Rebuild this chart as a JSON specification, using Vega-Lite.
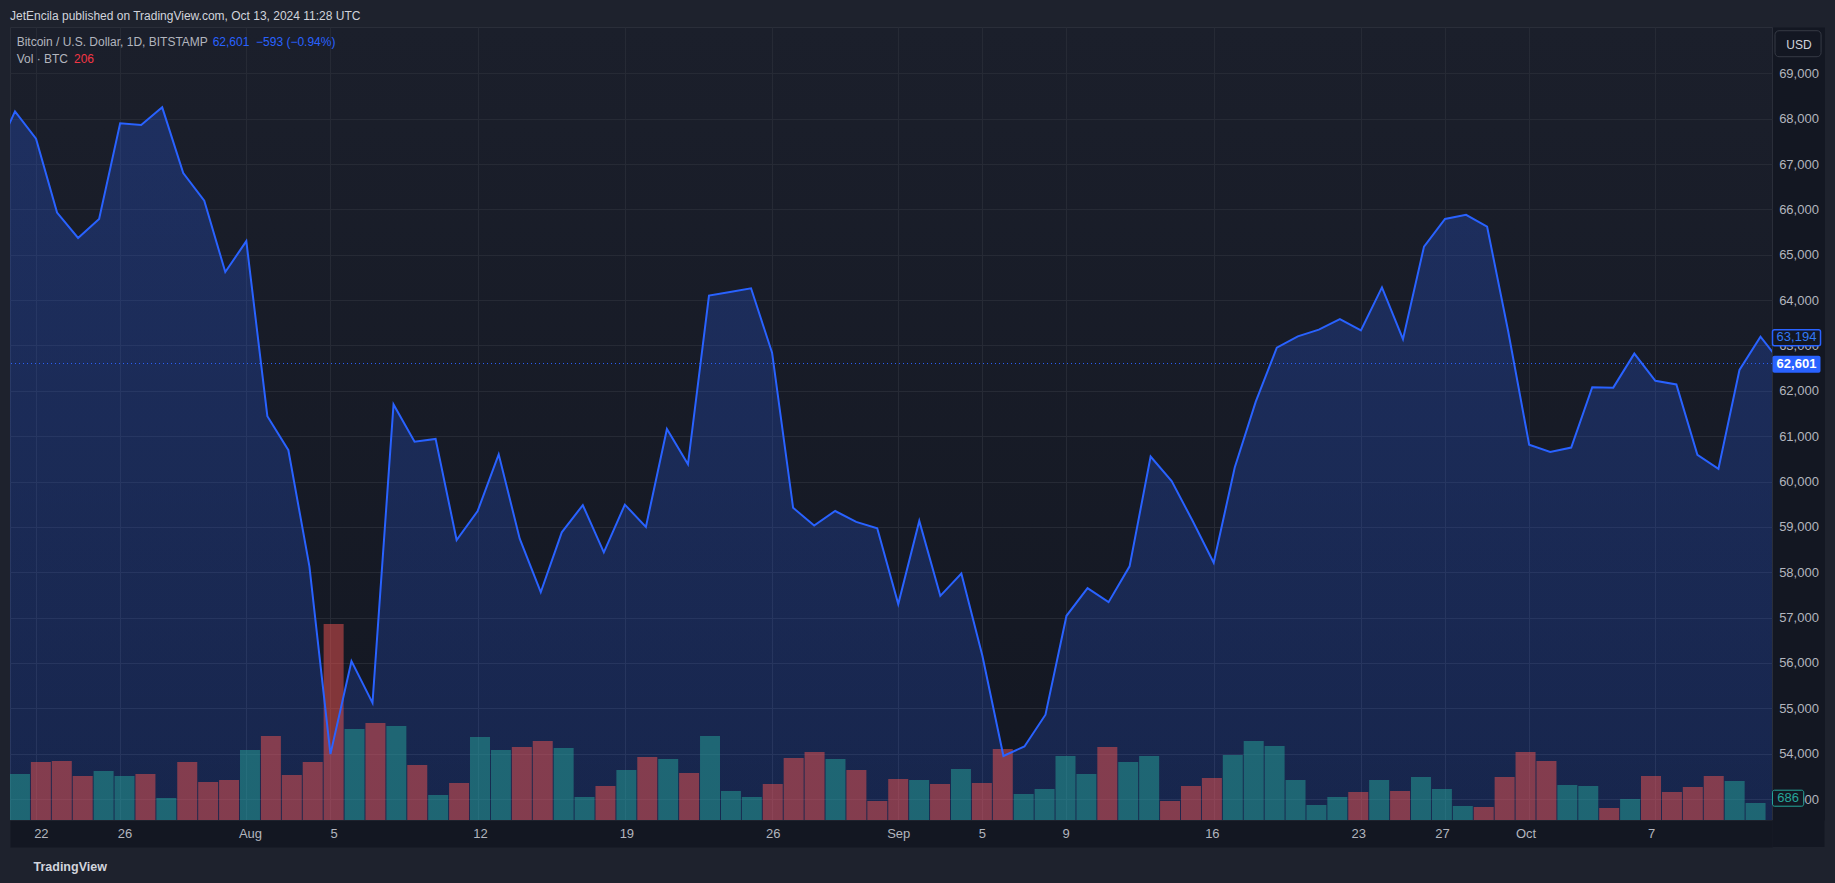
{
  "$schema": "https://vega.github.io/schema/vega-lite/v6.json",
  "width": 1762,
  "height": 793,
  "autosize": {"type": "none"},
  "padding": {"left": 10, "top": 27, "right": 63, "bottom": 63},
  "background": "#1e222d",
  "title": {
    "text": "JetEncila published on TradingView.com, Oct 13, 2024 11:28 UTC",
    "subtitle": [
      "\u200b\u00a0\u00a0Bitcoin / U.S. Dollar, 1D, BITSTAMP",
      "\u200b\u00a0\u00a0Vol \u00b7 BTC"
    ],
    "anchor": "start",
    "frame": "group",
    "orient": "top",
    "offset": -39,
    "fontSize": 12,
    "fontWeight": "normal",
    "color": "#d1d4dc",
    "subtitleFontSize": 12,
    "subtitleColor": "#b2b5be",
    "subtitlePadding": 14,
    "subtitleLineHeight": 17
  },
  "datasets": {
    "price": [
      {"date": "2024-07-20", "close": 67150},
      {"date": "2024-07-21", "close": 68160},
      {"date": "2024-07-22", "close": 67560},
      {"date": "2024-07-23", "close": 65930},
      {"date": "2024-07-24", "close": 65370},
      {"date": "2024-07-25", "close": 65790},
      {"date": "2024-07-26", "close": 67900},
      {"date": "2024-07-27", "close": 67860},
      {"date": "2024-07-28", "close": 68250},
      {"date": "2024-07-29", "close": 66800},
      {"date": "2024-07-30", "close": 66190},
      {"date": "2024-07-31", "close": 64620},
      {"date": "2024-08-01", "close": 65300},
      {"date": "2024-08-02", "close": 61440},
      {"date": "2024-08-03", "close": 60690},
      {"date": "2024-08-04", "close": 58130},
      {"date": "2024-08-05", "close": 53990},
      {"date": "2024-08-06", "close": 56040},
      {"date": "2024-08-07", "close": 55120},
      {"date": "2024-08-08", "close": 61700},
      {"date": "2024-08-09", "close": 60880},
      {"date": "2024-08-10", "close": 60940},
      {"date": "2024-08-11", "close": 58710},
      {"date": "2024-08-12", "close": 59350},
      {"date": "2024-08-13", "close": 60600},
      {"date": "2024-08-14", "close": 58740},
      {"date": "2024-08-15", "close": 57560},
      {"date": "2024-08-16", "close": 58880},
      {"date": "2024-08-17", "close": 59480},
      {"date": "2024-08-18", "close": 58440},
      {"date": "2024-08-19", "close": 59490},
      {"date": "2024-08-20", "close": 59000},
      {"date": "2024-08-21", "close": 61160},
      {"date": "2024-08-22", "close": 60380},
      {"date": "2024-08-23", "close": 64100},
      {"date": "2024-08-24", "close": 64180},
      {"date": "2024-08-25", "close": 64260},
      {"date": "2024-08-26", "close": 62840},
      {"date": "2024-08-27", "close": 59420},
      {"date": "2024-08-28", "close": 59030},
      {"date": "2024-08-29", "close": 59350},
      {"date": "2024-08-30", "close": 59110},
      {"date": "2024-08-31", "close": 58970},
      {"date": "2024-09-01", "close": 57300},
      {"date": "2024-09-02", "close": 59130},
      {"date": "2024-09-03", "close": 57480},
      {"date": "2024-09-04", "close": 57970},
      {"date": "2024-09-05", "close": 56160},
      {"date": "2024-09-06", "close": 53950},
      {"date": "2024-09-07", "close": 54160},
      {"date": "2024-09-08", "close": 54860},
      {"date": "2024-09-09", "close": 57040},
      {"date": "2024-09-10", "close": 57650},
      {"date": "2024-09-11", "close": 57340},
      {"date": "2024-09-12", "close": 58130},
      {"date": "2024-09-13", "close": 60550},
      {"date": "2024-09-14", "close": 60010},
      {"date": "2024-09-15", "close": 59130},
      {"date": "2024-09-16", "close": 58210},
      {"date": "2024-09-17", "close": 60310},
      {"date": "2024-09-18", "close": 61760},
      {"date": "2024-09-19", "close": 62950},
      {"date": "2024-09-20", "close": 63200},
      {"date": "2024-09-21", "close": 63350},
      {"date": "2024-09-22", "close": 63580},
      {"date": "2024-09-23", "close": 63330},
      {"date": "2024-09-24", "close": 64280},
      {"date": "2024-09-25", "close": 63140},
      {"date": "2024-09-26", "close": 65180},
      {"date": "2024-09-27", "close": 65790},
      {"date": "2024-09-28", "close": 65880},
      {"date": "2024-09-29", "close": 65620},
      {"date": "2024-09-30", "close": 63320},
      {"date": "2024-10-01", "close": 60810},
      {"date": "2024-10-02", "close": 60650},
      {"date": "2024-10-03", "close": 60750},
      {"date": "2024-10-04", "close": 62080},
      {"date": "2024-10-05", "close": 62070},
      {"date": "2024-10-06", "close": 62820},
      {"date": "2024-10-07", "close": 62220},
      {"date": "2024-10-08", "close": 62140},
      {"date": "2024-10-09", "close": 60590},
      {"date": "2024-10-10", "close": 60280},
      {"date": "2024-10-11", "close": 62460},
      {"date": "2024-10-12", "close": 63194},
      {"date": "2024-10-13", "close": 62601}
    ],
    "volume": [
      {"date": "2024-07-21", "vol": 1856, "dir": "up"},
      {"date": "2024-07-22", "vol": 2340, "dir": "down"},
      {"date": "2024-07-23", "vol": 2381, "dir": "down"},
      {"date": "2024-07-24", "vol": 1775, "dir": "down"},
      {"date": "2024-07-25", "vol": 1977, "dir": "up"},
      {"date": "2024-07-26", "vol": 1775, "dir": "up"},
      {"date": "2024-07-27", "vol": 1856, "dir": "down"},
      {"date": "2024-07-28", "vol": 888, "dir": "up"},
      {"date": "2024-07-29", "vol": 2340, "dir": "down"},
      {"date": "2024-07-30", "vol": 1533, "dir": "down"},
      {"date": "2024-07-31", "vol": 1614, "dir": "down"},
      {"date": "2024-08-01", "vol": 2825, "dir": "up"},
      {"date": "2024-08-02", "vol": 3389, "dir": "down"},
      {"date": "2024-08-03", "vol": 1816, "dir": "down"},
      {"date": "2024-08-04", "vol": 2340, "dir": "down"},
      {"date": "2024-08-05", "vol": 7909, "dir": "down"},
      {"date": "2024-08-06", "vol": 3672, "dir": "up"},
      {"date": "2024-08-07", "vol": 3914, "dir": "down"},
      {"date": "2024-08-08", "vol": 3793, "dir": "up"},
      {"date": "2024-08-09", "vol": 2219, "dir": "down"},
      {"date": "2024-08-10", "vol": 1009, "dir": "up"},
      {"date": "2024-08-11", "vol": 1493, "dir": "down"},
      {"date": "2024-08-12", "vol": 3349, "dir": "up"},
      {"date": "2024-08-13", "vol": 2825, "dir": "up"},
      {"date": "2024-08-14", "vol": 2946, "dir": "down"},
      {"date": "2024-08-15", "vol": 3188, "dir": "down"},
      {"date": "2024-08-16", "vol": 2905, "dir": "up"},
      {"date": "2024-08-17", "vol": 928, "dir": "up"},
      {"date": "2024-08-18", "vol": 1372, "dir": "down"},
      {"date": "2024-08-19", "vol": 2018, "dir": "up"},
      {"date": "2024-08-20", "vol": 2542, "dir": "down"},
      {"date": "2024-08-21", "vol": 2461, "dir": "up"},
      {"date": "2024-08-22", "vol": 1896, "dir": "down"},
      {"date": "2024-08-23", "vol": 3389, "dir": "up"},
      {"date": "2024-08-24", "vol": 1170, "dir": "up"},
      {"date": "2024-08-25", "vol": 928, "dir": "up"},
      {"date": "2024-08-26", "vol": 1453, "dir": "down"},
      {"date": "2024-08-27", "vol": 2502, "dir": "down"},
      {"date": "2024-08-28", "vol": 2744, "dir": "down"},
      {"date": "2024-08-29", "vol": 2461, "dir": "up"},
      {"date": "2024-08-30", "vol": 2018, "dir": "down"},
      {"date": "2024-08-31", "vol": 767, "dir": "down"},
      {"date": "2024-09-01", "vol": 1654, "dir": "down"},
      {"date": "2024-09-02", "vol": 1614, "dir": "up"},
      {"date": "2024-09-03", "vol": 1453, "dir": "down"},
      {"date": "2024-09-04", "vol": 2058, "dir": "up"},
      {"date": "2024-09-05", "vol": 1493, "dir": "down"},
      {"date": "2024-09-06", "vol": 2865, "dir": "down"},
      {"date": "2024-09-07", "vol": 1049, "dir": "up"},
      {"date": "2024-09-08", "vol": 1251, "dir": "up"},
      {"date": "2024-09-09", "vol": 2582, "dir": "up"},
      {"date": "2024-09-10", "vol": 1856, "dir": "up"},
      {"date": "2024-09-11", "vol": 2946, "dir": "down"},
      {"date": "2024-09-12", "vol": 2340, "dir": "up"},
      {"date": "2024-09-13", "vol": 2582, "dir": "up"},
      {"date": "2024-09-14", "vol": 767, "dir": "down"},
      {"date": "2024-09-15", "vol": 1372, "dir": "down"},
      {"date": "2024-09-16", "vol": 1695, "dir": "down"},
      {"date": "2024-09-17", "vol": 2623, "dir": "up"},
      {"date": "2024-09-18", "vol": 3188, "dir": "up"},
      {"date": "2024-09-19", "vol": 2986, "dir": "up"},
      {"date": "2024-09-20", "vol": 1614, "dir": "up"},
      {"date": "2024-09-21", "vol": 605, "dir": "up"},
      {"date": "2024-09-22", "vol": 928, "dir": "up"},
      {"date": "2024-09-23", "vol": 1130, "dir": "down"},
      {"date": "2024-09-24", "vol": 1614, "dir": "up"},
      {"date": "2024-09-25", "vol": 1170, "dir": "down"},
      {"date": "2024-09-26", "vol": 1735, "dir": "up"},
      {"date": "2024-09-27", "vol": 1251, "dir": "up"},
      {"date": "2024-09-28", "vol": 565, "dir": "up"},
      {"date": "2024-09-29", "vol": 525, "dir": "down"},
      {"date": "2024-09-30", "vol": 1735, "dir": "down"},
      {"date": "2024-10-01", "vol": 2744, "dir": "down"},
      {"date": "2024-10-02", "vol": 2381, "dir": "down"},
      {"date": "2024-10-03", "vol": 1412, "dir": "up"},
      {"date": "2024-10-04", "vol": 1372, "dir": "up"},
      {"date": "2024-10-05", "vol": 484, "dir": "down"},
      {"date": "2024-10-06", "vol": 847, "dir": "up"},
      {"date": "2024-10-07", "vol": 1775, "dir": "down"},
      {"date": "2024-10-08", "vol": 1130, "dir": "down"},
      {"date": "2024-10-09", "vol": 1332, "dir": "down"},
      {"date": "2024-10-10", "vol": 1775, "dir": "down"},
      {"date": "2024-10-11", "vol": 1574, "dir": "up"},
      {"date": "2024-10-12", "vol": 686, "dir": "up"}
    ],
    "priceLabels": [
      {"price": 63194, "label": "63,194", "kind": "prev"},
      {"price": 62601, "label": "62,601", "kind": "last"}
    ],
    "volLabel": [
      {"vol": 686, "label": "686"}
    ],
    "legendValues": [
      {"label": "62,601\u00a0\u00a0\u2212593 (\u22120.94%)", "kind": "price"},
      {"label": "206", "kind": "vol"}
    ]
  },
  "layer": [
    {
      "data": {"name": "price"},
      "mark": {
        "type": "area",
        "clip": true,
        "color": {
          "gradient": "linear",
          "x1": 0, "y1": 0, "x2": 0, "y2": 1,
          "stops": [
            {"offset": 0, "color": "rgba(41,98,255,0.25)"},
            {"offset": 1, "color": "rgba(41,98,255,0.0)"}
          ]
        }
      },
      "encoding": {
        "x": {
          "field": "date",
          "type": "temporal",
          "scale": {
            "type": "utc",
            "domain": [
              {"year": 2024, "month": 7, "date": 20, "hours": 18, "minutes": 18, "utc": true},
              {"year": 2024, "month": 10, "date": 12, "hours": 13, "minutes": 8, "utc": true}
            ]
          },
          "title": "TradingView",
          "axis": {
            "orient": "bottom",
            "values": [
              {"year": 2024, "month": 7, "date": 22, "utc": true},
              {"year": 2024, "month": 7, "date": 26, "utc": true},
              {"year": 2024, "month": 8, "date": 1, "utc": true},
              {"year": 2024, "month": 8, "date": 5, "utc": true},
              {"year": 2024, "month": 8, "date": 12, "utc": true},
              {"year": 2024, "month": 8, "date": 19, "utc": true},
              {"year": 2024, "month": 8, "date": 26, "utc": true},
              {"year": 2024, "month": 9, "date": 1, "utc": true},
              {"year": 2024, "month": 9, "date": 5, "utc": true},
              {"year": 2024, "month": 9, "date": 9, "utc": true},
              {"year": 2024, "month": 9, "date": 16, "utc": true},
              {"year": 2024, "month": 9, "date": 23, "utc": true},
              {"year": 2024, "month": 9, "date": 27, "utc": true},
              {"year": 2024, "month": 10, "date": 1, "utc": true},
              {"year": 2024, "month": 10, "date": 7, "utc": true}
            ],
            "grid": true,
            "labels": false,
            "offset": 13.5,
            "domainColor": "#131722",
            "domainWidth": 27,
            "domainCap": "butt",
            "titleColor": "#d1d4dc",
            "titleFontSize": 12.5,
            "titleFontWeight": "bold",
            "titleAlign": "left",
            "titleBaseline": "middle",
            "titleX": 23,
            "titleY": 32.5
          }
        },
        "y": {
          "field": "close",
          "type": "quantitative",
          "scale": {"domain": [52538, 70021], "nice": false, "zero": false},
          "axis": {
            "orient": "right",
            "values": [53000, 54000, 55000, 56000, 57000, 58000, 59000, 60000, 61000, 62000, 63000, 64000, 65000, 66000, 67000, 68000, 69000],
            "grid": true,
            "labels": false,
            "offset": 26.5,
            "domainColor": "#131722",
            "domainWidth": 52,
            "domainCap": "butt",
            "title": "USD",
            "titleAngle": 0,
            "titleX": 0,
            "titleY": 17,
            "titleAlign": "center",
            "titleBaseline": "middle",
            "titleColor": "#d1d4dc",
            "titleFontSize": 12,
            "titleFontWeight": "normal"
          }
        }
      }
    },
    {
      "data": {"name": "volume"},
      "mark": {"type": "bar", "width": 20, "clip": true, "opacity": 0.5},
      "encoding": {
        "x": {
          "field": "date",
          "type": "temporal",
          "scale": {
            "type": "utc",
            "domain": [
              {"year": 2024, "month": 7, "date": 20, "hours": 18, "minutes": 18, "utc": true},
              {"year": 2024, "month": 10, "date": 12, "hours": 13, "minutes": 8, "utc": true}
            ]
          },
          "title": null,
          "axis": {
            "orient": "bottom",
            "zindex": 1,
            "values": [
              {"year": 2024, "month": 7, "date": 22, "utc": true},
              {"year": 2024, "month": 7, "date": 26, "utc": true},
              {"year": 2024, "month": 8, "date": 1, "utc": true},
              {"year": 2024, "month": 8, "date": 5, "utc": true},
              {"year": 2024, "month": 8, "date": 12, "utc": true},
              {"year": 2024, "month": 8, "date": 19, "utc": true},
              {"year": 2024, "month": 8, "date": 26, "utc": true},
              {"year": 2024, "month": 9, "date": 1, "utc": true},
              {"year": 2024, "month": 9, "date": 5, "utc": true},
              {"year": 2024, "month": 9, "date": 9, "utc": true},
              {"year": 2024, "month": 9, "date": 16, "utc": true},
              {"year": 2024, "month": 9, "date": 23, "utc": true},
              {"year": 2024, "month": 9, "date": 27, "utc": true},
              {"year": 2024, "month": 10, "date": 1, "utc": true},
              {"year": 2024, "month": 10, "date": 7, "utc": true}
            ],
            "labelExpr": "utcFormat(datum.value, '%d') == '01' ? utcFormat(datum.value, '%b') : utcFormat(datum.value, '%-d')",
            "grid": false,
            "domain": false,
            "offset": 13.5,
            "labelBaseline": "middle",
            "labelPadding": 0,
            "labelFlush": false,
            "labelOverlap": false
          }
        },
        "y": {
          "field": "vol",
          "type": "quantitative",
          "scale": {"domain": [0, 32000], "nice": false},
          "axis": null
        },
        "color": {
          "field": "dir",
          "type": "nominal",
          "scale": {"domain": ["down", "up"], "range": ["#ef5350", "#26a69a"]},
          "legend": null
        }
      }
    },
    {
      "data": {"name": "price"},
      "mark": {"type": "line", "clip": true, "color": "#2962ff", "strokeWidth": 2},
      "encoding": {
        "x": {
          "field": "date",
          "type": "temporal",
          "scale": {
            "type": "utc",
            "domain": [
              {"year": 2024, "month": 7, "date": 20, "hours": 18, "minutes": 18, "utc": true},
              {"year": 2024, "month": 10, "date": 12, "hours": 13, "minutes": 8, "utc": true}
            ]
          },
          "axis": null
        },
        "y": {
          "field": "close",
          "type": "quantitative",
          "scale": {"domain": [52538, 70021], "nice": false, "zero": false},
          "axis": {
            "orient": "right",
            "values": [53000, 54000, 55000, 56000, 57000, 58000, 59000, 60000, 61000, 62000, 63000, 64000, 65000, 66000, 67000, 68000, 69000],
            "format": ",.0f",
            "grid": false,
            "domain": false,
            "offset": 26.5,
            "labelAlign": "center",
            "labelBaseline": "middle",
            "labelPadding": 0,
            "labelBound": false,
            "labelOverlap": false,
            "title": null
          }
        }
      }
    },
    {
      "data": {"name": "priceLabels"},
      "transform": [{"filter": "datum.kind == 'last'"}],
      "mark": {"type": "rule", "color": "#2962ff", "strokeDash": [1, 3], "strokeWidth": 1},
      "encoding": {
        "y": {
          "field": "price",
          "type": "quantitative",
          "scale": {"domain": [52538, 70021], "nice": false, "zero": false},
          "axis": null
        }
      }
    },
    {
      "data": {"name": "priceLabels"},
      "layer": [
        {
          "transform": [{"filter": "datum.kind == 'prev'"}],
          "mark": {"type": "bar", "height": 16, "color": "#131722", "stroke": "#2962ff", "strokeWidth": 1.5, "cornerRadius": 2}
        },
        {
          "transform": [{"filter": "datum.kind == 'last'"}],
          "mark": {"type": "bar", "height": 17, "color": "#2962ff", "cornerRadius": 2}
        }
      ],
      "encoding": {
        "x": {
          "datum": {"year": 2024, "month": 10, "date": 12, "hours": 13, "minutes": 42, "utc": true},
          "type": "temporal",
          "scale": {
            "type": "utc",
            "domain": [
              {"year": 2024, "month": 7, "date": 20, "hours": 18, "minutes": 18, "utc": true},
              {"year": 2024, "month": 10, "date": 12, "hours": 13, "minutes": 8, "utc": true}
            ]
          },
          "axis": null
        },
        "x2": {"datum": {"year": 2024, "month": 10, "date": 14, "hours": 20, "minutes": 30, "utc": true}},
        "y": {
          "field": "price",
          "type": "quantitative",
          "scale": {"domain": [52538, 70021], "nice": false, "zero": false},
          "axis": null
        }
      }
    },
    {
      "data": {"name": "priceLabels"},
      "layer": [
        {
          "transform": [{"filter": "datum.kind == 'prev'"}],
          "mark": {"type": "text", "align": "center", "baseline": "middle", "fontSize": 13, "color": "#3179f5"}
        },
        {
          "transform": [{"filter": "datum.kind == 'last'"}],
          "mark": {"type": "text", "align": "center", "baseline": "middle", "fontSize": 13, "fontWeight": "bold", "color": "#ffffff"}
        }
      ],
      "encoding": {
        "x": {
          "datum": {"year": 2024, "month": 10, "date": 13, "hours": 17, "minutes": 5, "utc": true},
          "type": "temporal",
          "scale": {
            "type": "utc",
            "domain": [
              {"year": 2024, "month": 7, "date": 20, "hours": 18, "minutes": 18, "utc": true},
              {"year": 2024, "month": 10, "date": 12, "hours": 13, "minutes": 8, "utc": true}
            ]
          },
          "axis": null
        },
        "y": {
          "field": "price",
          "type": "quantitative",
          "scale": {"domain": [52538, 70021], "nice": false, "zero": false},
          "axis": null
        },
        "text": {"field": "label"}
      }
    },
    {
      "data": {"values": [{"part": "corner"}, {"part": "usd"}]},
      "layer": [
        {
          "transform": [{"filter": "datum.part == 'corner'"}],
          "mark": {"type": "bar", "color": "#131722"},
          "encoding": {
            "x": {
              "datum": {"year": 2024, "month": 10, "date": 12, "hours": 13, "minutes": 42, "utc": true},
              "type": "temporal",
              "scale": {
                "type": "utc",
                "domain": [
                  {"year": 2024, "month": 7, "date": 20, "hours": 18, "minutes": 18, "utc": true},
                  {"year": 2024, "month": 10, "date": 12, "hours": 13, "minutes": 8, "utc": true}
                ]
              },
              "axis": null
            },
            "x2": {"datum": {"year": 2024, "month": 10, "date": 15, "hours": 1, "minutes": 3, "utc": true}},
            "y": {
              "datum": 52538,
              "type": "quantitative",
              "scale": {"domain": [52538, 70021], "nice": false, "zero": false},
              "axis": null
            },
            "y2": {"datum": 51943}
          }
        },
        {
          "transform": [{"filter": "datum.part == 'usd'"}],
          "mark": {"type": "bar", "fillOpacity": 0, "stroke": "#363a45", "strokeWidth": 1, "cornerRadius": 4},
          "encoding": {
            "x": {
              "datum": {"year": 2024, "month": 10, "date": 12, "hours": 16, "minutes": 34, "utc": true},
              "type": "temporal",
              "scale": {
                "type": "utc",
                "domain": [
                  {"year": 2024, "month": 7, "date": 20, "hours": 18, "minutes": 18, "utc": true},
                  {"year": 2024, "month": 10, "date": 12, "hours": 13, "minutes": 8, "utc": true}
                ]
              },
              "axis": null
            },
            "x2": {"datum": {"year": 2024, "month": 10, "date": 14, "hours": 21, "minutes": 8, "utc": true}},
            "y": {
              "datum": 69939,
              "type": "quantitative",
              "scale": {"domain": [52538, 70021], "nice": false, "zero": false},
              "axis": null
            },
            "y2": {"datum": 69366}
          }
        }
      ]
    },
    {
      "data": {"name": "legendValues"},
      "layer": [
        {
          "transform": [{"filter": "datum.kind == 'price'"}],
          "mark": {"type": "text", "align": "left", "baseline": "middle", "fontSize": 12, "color": "#2962ff"},
          "encoding": {
            "x": {
              "datum": {"year": 2024, "month": 7, "date": 30, "hours": 9, "minutes": 36, "utc": true},
              "type": "temporal",
              "scale": {
                "type": "utc",
                "domain": [
                  {"year": 2024, "month": 7, "date": 20, "hours": 18, "minutes": 18, "utc": true},
                  {"year": 2024, "month": 10, "date": 12, "hours": 13, "minutes": 8, "utc": true}
                ]
              },
              "axis": null
            },
            "y": {
              "datum": 69684,
              "type": "quantitative",
              "scale": {"domain": [52538, 70021], "nice": false, "zero": false},
              "axis": null
            },
            "text": {"field": "label"}
          }
        },
        {
          "transform": [{"filter": "datum.kind == 'vol'"}],
          "mark": {"type": "text", "align": "left", "baseline": "middle", "fontSize": 12, "color": "#f23645"},
          "encoding": {
            "x": {
              "datum": {"year": 2024, "month": 7, "date": 23, "hours": 19, "minutes": 21, "utc": true},
              "type": "temporal",
              "scale": {
                "type": "utc",
                "domain": [
                  {"year": 2024, "month": 7, "date": 20, "hours": 18, "minutes": 18, "utc": true},
                  {"year": 2024, "month": 10, "date": 12, "hours": 13, "minutes": 8, "utc": true}
                ]
              },
              "axis": null
            },
            "y": {
              "datum": 69316,
              "type": "quantitative",
              "scale": {"domain": [52538, 70021], "nice": false, "zero": false},
              "axis": null
            },
            "text": {"field": "label"}
          }
        }
      ]
    },
    {
      "data": {"name": "volLabel"},
      "layer": [
        {
          "mark": {"type": "bar", "height": 16, "color": "#131722", "stroke": "#26a69a", "strokeWidth": 1, "cornerRadius": 2},
          "encoding": {
            "x": {
              "datum": {"year": 2024, "month": 10, "date": 12, "hours": 13, "minutes": 42, "utc": true},
              "type": "temporal",
              "scale": {
                "type": "utc",
                "domain": [
                  {"year": 2024, "month": 7, "date": 20, "hours": 18, "minutes": 18, "utc": true},
                  {"year": 2024, "month": 10, "date": 12, "hours": 13, "minutes": 8, "utc": true}
                ]
              },
              "axis": null
            },
            "x2": {"datum": {"year": 2024, "month": 10, "date": 14, "hours": 1, "minutes": 19, "utc": true}}
          }
        },
        {
          "mark": {"type": "text", "align": "center", "baseline": "middle", "fontSize": 13, "color": "#26a69a"},
          "encoding": {
            "x": {
              "datum": {"year": 2024, "month": 10, "date": 13, "hours": 7, "minutes": 31, "utc": true},
              "type": "temporal",
              "scale": {
                "type": "utc",
                "domain": [
                  {"year": 2024, "month": 7, "date": 20, "hours": 18, "minutes": 18, "utc": true},
                  {"year": 2024, "month": 10, "date": 12, "hours": 13, "minutes": 8, "utc": true}
                ]
              },
              "axis": null
            },
            "text": {"field": "label"}
          }
        }
      ],
      "encoding": {
        "y": {
          "field": "vol",
          "type": "quantitative",
          "scale": {"domain": [0, 32000], "nice": false},
          "axis": null
        }
      }
    }
  ],
  "resolve": {
    "scale": {"x": "independent", "y": "independent", "color": "independent"},
    "axis": {"x": "independent", "y": "independent"}
  },
  "config": {
    "font": "Liberation Sans, Arial, sans-serif",
    "view": {
      "stroke": "#2a2e39",
      "fill": {
        "gradient": "linear",
        "x1": 0, "y1": 0, "x2": 0, "y2": 1,
        "stops": [
          {"offset": 0, "color": "#1b1f2b"},
          {"offset": 1, "color": "#131722"}
        ]
      }
    },
    "axis": {
      "gridColor": "#262a35",
      "gridWidth": 1,
      "labelColor": "#b2b5be",
      "labelFontSize": 13,
      "ticks": false,
      "tickSize": 0
    }
  }
}
